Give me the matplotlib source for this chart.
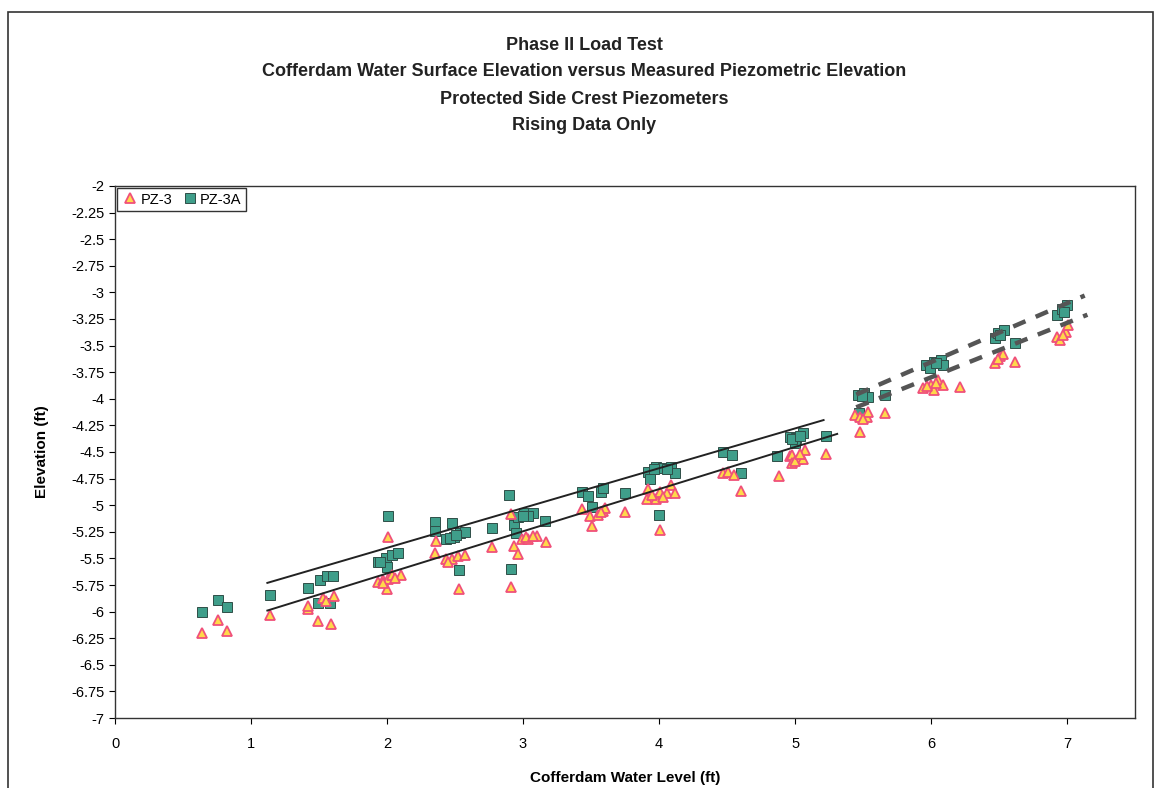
import matplotlib.pyplot as plt
from matplotlib.patches import Rectangle

plt.rcParams['font.family'] = ['Liberation Sans', 'DejaVu Sans']

# PZ-3 (triangles)
pz3_x = [0.64, 0.76, 0.82, 1.14, 1.42, 1.42, 1.49, 1.59, 1.53, 1.55, 1.61,
         1.93, 1.97, 2.01, 2.04, 2.10, 2.00, 2.01, 1.97, 2.06,
         2.36, 2.35, 2.43, 2.48, 2.52, 2.57, 2.53, 2.45,
         2.77, 2.91, 2.93, 2.96, 2.99, 3.04, 3.10, 3.17, 2.91, 3.02, 3.07,
         3.43, 3.49, 3.51, 3.55, 3.59, 3.60, 3.75, 3.57,
         3.92, 3.91, 3.98, 4.01, 4.06, 4.09, 4.12, 4.01, 3.95, 4.03,
         4.47, 4.51, 4.55, 4.60,
         4.88, 4.96, 4.98, 5.02, 5.06, 5.07, 4.98, 5.23, 5.00, 5.04,
         5.44, 5.48, 5.53, 5.54, 5.48, 5.66, 5.50,
         5.94, 6.00, 6.05, 6.09, 6.02, 6.21, 5.97, 6.04,
         6.47, 6.51, 6.53, 6.62, 6.49,
         6.93, 6.95, 6.99, 7.01, 6.97]
pz3_y = [-6.20, -6.08, -6.18, -6.03, -5.98, -5.95, -6.09, -6.12, -5.87, -5.90, -5.85,
         -5.72, -5.70, -5.69, -5.66, -5.66, -5.79, -5.30, -5.73, -5.68,
         -5.34, -5.45, -5.51, -5.51, -5.48, -5.47, -5.79, -5.53,
         -5.39, -5.08, -5.38, -5.46, -5.32, -5.32, -5.29, -5.35, -5.77, -5.30, -5.29,
         -5.04, -5.10, -5.20, -5.09, -5.05, -5.03, -5.06, -5.06,
         -4.85, -4.94, -4.94, -4.88, -4.89, -4.81, -4.89, -5.23, -4.90, -4.92,
         -4.70, -4.69, -4.72, -4.87,
         -4.73, -4.54, -4.53, -4.57, -4.57, -4.48, -4.60, -4.52, -4.58, -4.52,
         -4.15, -4.17, -4.17, -4.12, -4.31, -4.13, -4.19,
         -3.90, -3.87, -3.82, -3.87, -3.92, -3.89, -3.88, -3.85,
         -3.66, -3.60, -3.58, -3.65, -3.63,
         -3.42, -3.45, -3.37, -3.31, -3.40]

# PZ-3A (squares)
pz3a_x = [0.64, 0.76, 0.82, 1.14, 1.42, 1.51, 1.56, 1.60, 1.49, 1.58,
          1.93, 1.99, 2.04, 2.08, 2.00, 2.01, 1.95,
          2.35, 2.35, 2.48, 2.43, 2.49, 2.54, 2.57, 2.53, 2.46, 2.51,
          2.77, 2.90, 2.93, 2.93, 2.96, 3.01, 3.07, 2.95, 3.16, 2.91, 3.04, 3.00,
          3.43, 3.48, 3.57, 3.59, 3.51, 3.75,
          3.92, 3.98, 4.03, 4.09, 4.12, 3.93, 4.00, 3.96, 4.06,
          4.47, 4.54, 4.60,
          4.87, 4.96, 5.01, 5.06, 5.23, 5.00, 4.98, 5.04,
          5.46, 5.51, 5.54, 5.47, 5.66, 5.49,
          5.96, 6.02, 6.07, 6.09, 5.99, 6.04,
          6.47, 6.49, 6.54, 6.62, 6.51,
          6.93, 6.96, 7.00, 6.98]
pz3a_y = [-6.00, -5.89, -5.96, -5.84, -5.78, -5.70, -5.67, -5.67, -5.92, -5.92,
          -5.53, -5.50, -5.47, -5.45, -5.58, -5.10, -5.53,
          -5.16, -5.24, -5.17, -5.32, -5.30, -5.26, -5.25, -5.61, -5.31, -5.28,
          -5.21, -4.90, -5.12, -5.19, -5.11, -5.07, -5.07, -5.26, -5.15, -5.60, -5.10, -5.10,
          -4.88, -4.91, -4.88, -4.84, -5.02, -4.89,
          -4.69, -4.64, -4.65, -4.64, -4.70, -4.75, -5.09, -4.66, -4.66,
          -4.50, -4.53, -4.70,
          -4.54, -4.36, -4.37, -4.32, -4.35, -4.42, -4.38, -4.35,
          -3.96, -3.95, -3.98, -4.13, -3.96, -3.97,
          -3.68, -3.65, -3.64, -3.68, -3.71, -3.66,
          -3.43, -3.38, -3.35, -3.48, -3.40,
          -3.21, -3.16, -3.12, -3.18]

# trend lines (endpoints)
fit_solid_x = [1.12, 5.21]
fit_solid_up_y = [-5.73, -4.20]
fit_solid_lo_x = [1.12, 5.31]
fit_solid_lo_y = [-5.99, -4.33]
fit_dash_x = [5.45, 7.13]
fit_dash_up_y = [-3.96, -3.03]
fit_dash_lo_x = [5.45, 7.15]
fit_dash_lo_y = [-4.08, -3.21]

fig = plt.figure(figsize=(11.55, 7.88), dpi=100)
ax = fig.add_axes([0.0996, 0.0888, 0.8831, 0.6752])

ax.plot(pz3a_x, pz3a_y, 's', ms=7, mfc='#3f9e8a', mec='#2f4f48', mew=0.7, label='PZ-3A', zorder=3)
ax.plot(pz3_x, pz3_y, '^', ms=7.5, mfc='#ffd94a', mec='#f0507a', mew=1.3, label='PZ-3', zorder=4)

ax.plot(fit_solid_x, fit_solid_up_y, color='#222222', lw=1.4, zorder=5)
ax.plot(fit_solid_lo_x, fit_solid_lo_y, color='#222222', lw=1.4, zorder=5)
ax.plot(fit_dash_x, fit_dash_up_y, color='#555555', lw=3.2, dashes=(3, 2.5), zorder=5)
ax.plot(fit_dash_lo_x, fit_dash_lo_y, color='#555555', lw=3.2, dashes=(3, 2.5), zorder=5)

ax.set_xlim(0, 7.5)
ax.set_ylim(-7, -2)
ax.set_xticks(range(0, 8))
yt = [-7 + 0.25 * i for i in range(21)]
ax.set_yticks(yt)
ax.set_yticklabels([('%g' % v) for v in yt])
ax.tick_params(axis='both', direction='out', labelsize=10.5, length=4)
ax.tick_params(axis='x', pad=10)

for s in ax.spines.values():
    s.set_linewidth(1.0)
    s.set_color('#333333')

ax.set_xlabel('Cofferdam Water Level (ft)', fontsize=11, fontweight='bold', labelpad=14)
ax.set_ylabel('Elevation (ft)', fontsize=11, fontweight='bold', labelpad=16)

h, l = ax.get_legend_handles_labels()
leg = ax.legend(h[::-1], l[::-1], loc='upper left', ncol=2, fontsize=10.5,
                frameon=True, fancybox=False, edgecolor='black',
                handletextpad=0.1, columnspacing=0.6, handlelength=1.2,
                borderpad=0.3, borderaxespad=0.15)
leg.get_frame().set_linewidth(1.0)

titles = ['Phase II Load Test',
          'Cofferdam Water Surface Elevation versus Measured Piezometric Elevation',
          'Protected Side Crest Piezometers',
          'Rising Data Only']
for i, t in enumerate(titles):
    fig.text(0.506, 1 - (45 + 27 * i) / 788, t, ha='center', va='center',
             fontsize=13, fontweight='bold', color='#222222')

fig.patches.append(Rectangle((8 / 1155, -0.01), 1145 / 1155, 1 - 12 / 788 + 0.01,
                             transform=fig.transFigure, fill=False,
                             edgecolor='#333333', lw=1.2))

fig.savefig('out.png', dpi=100)
